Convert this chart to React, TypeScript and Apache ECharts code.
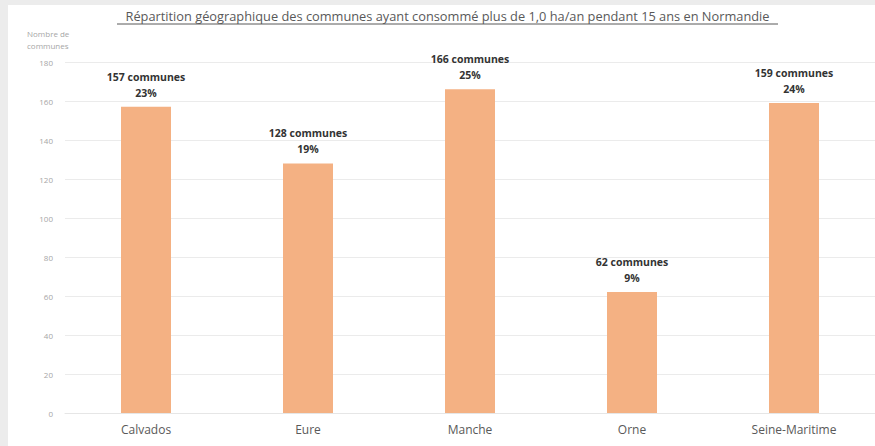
import React, { useEffect, useRef } from "react";
import * as echarts from "echarts";

const categories = ["Calvados", "Eure", "Manche", "Orne", "Seine-Maritime"];
const communes = [157, 128, 166, 62, 159];
const percents = ["23%", "19%", "25%", "9%", "24%"];
const yTicks = [0, 20, 40, 60, 80, 100, 120, 140, 160, 180];
const titleText =
  "Répartition géographique des communes ayant consommé plus de 1,0 ha/an pendant 15 ans en Normandie";

export default function App() {
  const ref = useRef<HTMLDivElement>(null);
  useEffect(() => {
    const chart = echarts.init(ref.current!, null, { renderer: "svg" });
    chart.setOption({
      animation: false,
      backgroundColor: "#ffffff",
      graphic: [
        { type: "rect", left: 0, top: 0, shape: { width: 875, height: 5 }, style: { fill: "#ececec" }, z: -10 },
        { type: "rect", left: 0, top: 0, shape: { width: 8, height: 446 }, style: { fill: "#ececec" }, z: -10 },
        {
          type: "text",
          x: 447.5,
          y: 9,
          style: {
            text: titleText,
            font: "12.8px 'Open Sans', sans-serif",
            fill: "#595959",
            align: "center",
          },
        },
        {
          type: "line",
          shape: { x1: 117, y1: 24, x2: 778, y2: 24 },
          style: { stroke: "#595959", lineWidth: 1 },
        },
        {
          type: "text",
          left: 27,
          top: 27,
          style: {
            text: "Nombre de\ncommunes",
            font: "8px 'Open Sans', sans-serif",
            fill: "#a6a6a6",
            lineHeight: 12,
          },
        },
      ],
      grid: { left: 65, right: 0, top: 62, bottom: 33 },
      xAxis: {
        type: "category",
        data: categories,
        axisLine: { show: true, lineStyle: { color: "#e6e6e6" } },
        axisTick: { show: false },
        axisLabel: {
          color: "#595959",
          fontSize: 12,
          fontFamily: "'Open Sans', sans-serif",
          margin: 10,
        },
      },
      yAxis: {
        type: "value",
        min: yTicks[0],
        max: yTicks[yTicks.length - 1],
        interval: 20,
        axisLine: { show: false },
        axisTick: { show: false },
        axisLabel: {
          color: "#a6a6a6",
          fontSize: 8,
          fontFamily: "'Open Sans', sans-serif",
          margin: 12,
        },
        splitLine: { lineStyle: { color: "#ebebeb", width: 1 } },
      },
      series: [
        {
          type: "bar",
          data: communes,
          barWidth: 50,
          itemStyle: { color: "#f4b183" },
          label: {
            show: true,
            position: "top",
            distance: 6,
            formatter: (p: any) => `${p.value} communes\n${percents[p.dataIndex]}`,
            color: "#333333",
            fontSize: 10.5,
            fontWeight: "bold",
            fontFamily: "'Open Sans', sans-serif",
            lineHeight: 16,
          },
        },
      ],
    });
    return () => chart.dispose();
  }, []);
  return <div ref={ref} style={{ width: 875, height: 446, position: "absolute", left: 0, top: 0 }} />;
}
